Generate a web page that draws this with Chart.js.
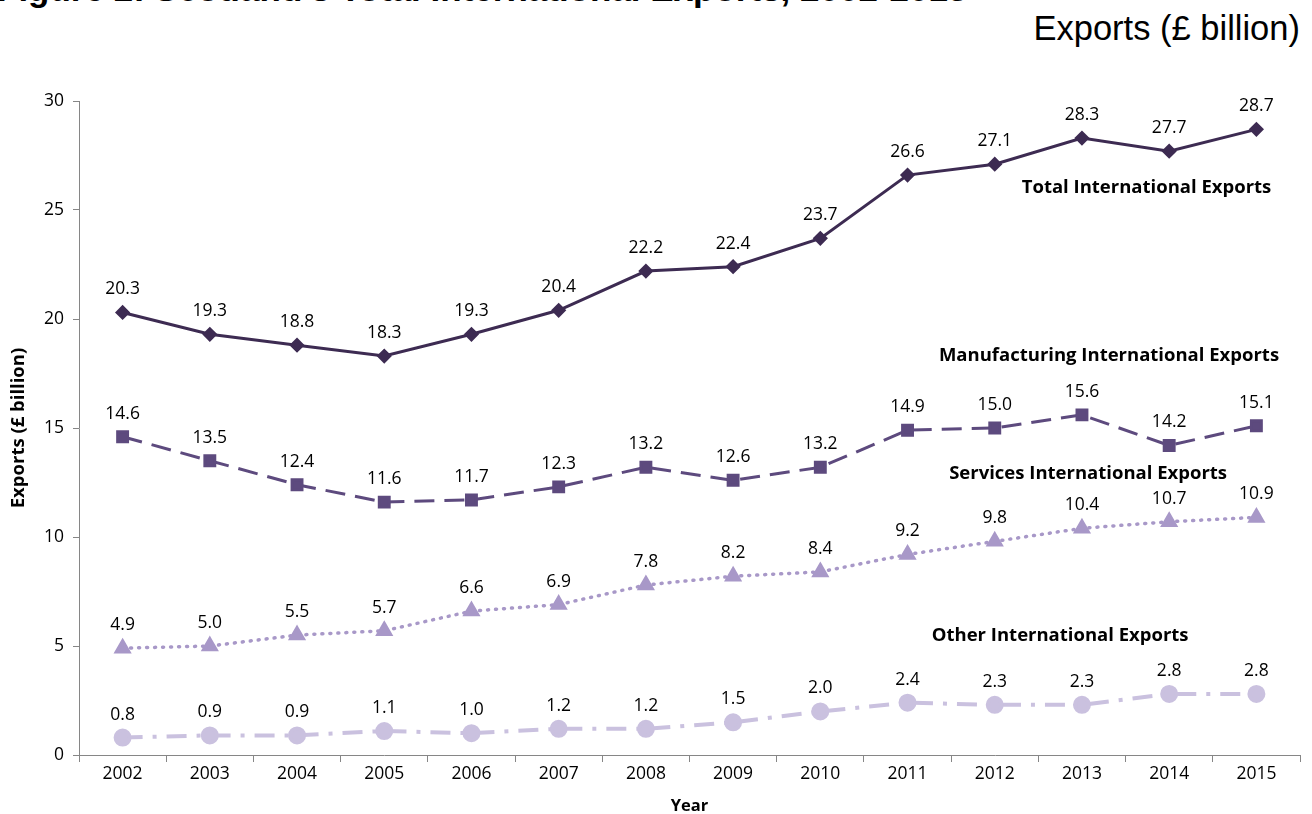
<!DOCTYPE html>
<html>
<head>
<meta charset="utf-8">
<script src="https://cdn.jsdelivr.net/npm/chart.js@4"></script>
<style>
  body { margin: 0; background: #fff; overflow: hidden; }
  #wrap { position: relative; width: 1312px; height: 814px; }
  #fig-title { position: absolute; left: -3px; top: -31px; line-height: 1; font: bold 35px "Liberation Sans", Arial, sans-serif; color: #000; white-space: nowrap; }
  #unit { position: absolute; right: 12px; top: 9px; line-height: 1; font: 34.5px "Liberation Sans", Arial, sans-serif; color: #000; white-space: nowrap; }
  canvas { position: absolute; left: 0; top: 0; }
</style>
</head>
<body>
<div id="wrap">
  <div id="fig-title">Figure 2: Scotland's Total International Exports, 2002-2015</div>
  <div id="unit">Exports (£ billion)</div>
  <canvas id="chart" width="1312" height="814"></canvas>
</div>
<script>
const years = ['2002', '2003', '2004', '2005', '2006', '2007', '2008', '2009', '2010', '2011', '2012', '2013', '2014', '2015'];
const totalExports = [20.3, 19.3, 18.8, 18.3, 19.3, 20.4, 22.2, 22.4, 23.7, 26.6, 27.1, 28.3, 27.7, 28.7];
const manufacturingExports = [14.6, 13.5, 12.4, 11.6, 11.7, 12.3, 13.2, 12.6, 13.2, 14.9, 15.0, 15.6, 14.2, 15.1];
const servicesExports = [4.9, 5.0, 5.5, 5.7, 6.6, 6.9, 7.8, 8.2, 8.4, 9.2, 9.8, 10.4, 10.7, 10.9];
const otherExports = [0.8, 0.9, 0.9, 1.1, 1.0, 1.2, 1.2, 1.5, 2.0, 2.4, 2.3, 2.3, 2.8, 2.8];

// series name labels, placed at (category index, value)
const seriesLabels = [
  { text: 'Total International Exports', x: 11.74, y: 26.0 },
  { text: 'Manufacturing International Exports', x: 11.31, y: 18.3 },
  { text: 'Services International Exports', x: 11.07, y: 12.9 },
  { text: 'Other International Exports', x: 10.75, y: 5.45 }
];

const tickFont = { family: '"Open Sans", sans-serif', size: 17.5 };

// Draw values above each point, plus the series names
const valueLabels = {
  id: 'valueLabels',
  afterDatasetsDraw(chart) {
    const ctx = chart.ctx;
    ctx.save();
    ctx.font = '17.5px "Open Sans", sans-serif';
    ctx.fillStyle = '#000';
    ctx.textAlign = 'center';
    ctx.textBaseline = 'alphabetic';
    chart.data.datasets.forEach((ds, i) => {
      chart.getDatasetMeta(i).data.forEach((pt, j) => {
        ctx.fillText(ds.data[j].toFixed(1), pt.x, pt.y - 18);
      });
    });
    const xs = chart.scales.x, ys = chart.scales.y;
    ctx.font = 'bold 18.5px "Open Sans", sans-serif';
    ctx.textBaseline = 'middle';
    seriesLabels.forEach(l => {
      const px = xs.getPixelForValue(0) + l.x * (xs.getPixelForValue(1) - xs.getPixelForValue(0));
      ctx.fillText(l.text, px, ys.getPixelForValue(l.y));
    });
    ctx.restore();
  }
};

new Chart(document.getElementById('chart'), {
  type: 'line',
  data: {
    labels: years,
    datasets: [
      {
        label: 'Total International Exports',
        data: totalExports,
        borderColor: '#3d2b52',
        backgroundColor: '#3d2b52',
        borderWidth: 3,
        pointStyle: 'rectRot',
        pointRadius: 5.5,
        tension: 0
      },
      {
        label: 'Manufacturing International Exports',
        data: manufacturingExports,
        borderColor: '#5d4a7e',
        backgroundColor: '#5d4a7e',
        borderWidth: 3,
        borderDash: [20, 10],
        pointStyle: 'rect',
        pointRadius: 7,
        tension: 0
      },
      {
        label: 'Services International Exports',
        data: servicesExports,
        borderColor: '#a898c8',
        backgroundColor: '#a898c8',
        borderWidth: 3.5,
        borderDash: [1, 7],
        borderCapStyle: 'round',
        pointStyle: 'triangle',
        pointRadius: 7,
        tension: 0
      },
      {
        label: 'Other International Exports',
        data: otherExports,
        borderColor: '#cac1df',
        backgroundColor: '#cac1df',
        borderWidth: 4,
        borderDash: [20, 10, 4, 10],
        pointStyle: 'circle',
        pointRadius: 7,
        tension: 0
      }
    ]
  },
  options: {
    responsive: false,
    animation: false,
    layout: { padding: { left: 0, right: 12, top: 101, bottom: 0 } },
    plugins: {
      legend: { display: false },
      tooltip: { enabled: false }
    },
    scales: {
      x: {
        offset: true,
        grid: { offset: true, drawOnChartArea: false, drawTicks: true, tickLength: 7, color: '#868686' },
        border: { color: '#868686', width: 1 },
        ticks: { font: tickFont, color: '#000', padding: 2, maxRotation: 0 },
        title: { display: true, text: 'Year', font: { family: '"Open Sans", sans-serif', size: 16.5, weight: 'bold' }, color: '#000', padding: { top: 0, bottom: -2 } },
        afterFit: (scale) => { scale.height = 59; }
      },
      y: {
        min: 0,
        max: 30,
        ticks: { stepSize: 5, font: tickFont, color: '#000', padding: 9 },
        grid: { drawOnChartArea: false, drawTicks: true, tickLength: 6, color: '#868686' },
        border: { color: '#868686', width: 1 },
        title: { display: true, text: 'Exports (£ billion)', font: { family: '"Open Sans", sans-serif', size: 18.5, weight: 'bold' }, color: '#000', padding: { top: 8, bottom: 0 } },
        afterFit: (scale) => { scale.width = 79; }
      }
    }
  },
  plugins: [valueLabels]
});
</script>
</body>
</html>
